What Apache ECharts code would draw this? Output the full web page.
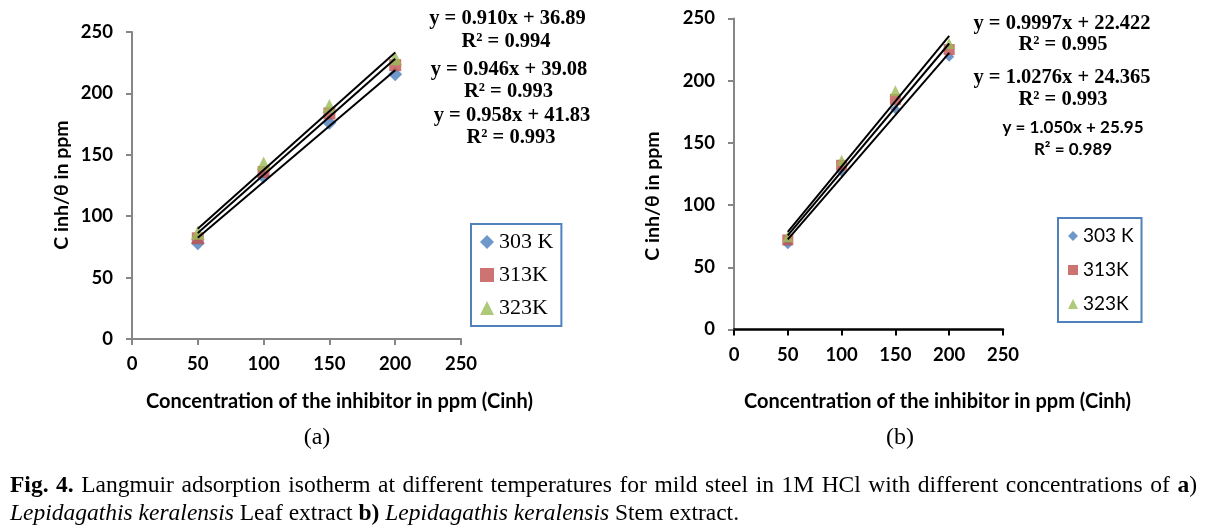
<!DOCTYPE html>
<html><head><meta charset="utf-8">
<script src="https://cdn.jsdelivr.net/npm/echarts@6/dist/echarts.min.js"></script>
<style>html,body{margin:0;padding:0;background:#fff}#c{width:1209px;height:529px}</style>
</head><body><div id="c"></div>
<script>
// ---- data ----
const concentrations = [50, 100, 150, 200];
const seriesNames = ['303 K', '313K', '323K'];
// (a) leaf extract
const leaf303 = [77.9, 132.2, 176.0, 215.5];
const leaf313 = [82.0, 136.0, 183.7, 223.0];
const leaf323 = [86.6, 143.0, 189.7, 228.6];
// (b) stem extract
const stem303 = [68.5, 126.9, 177.0, 219.3];
const stem313 = [72.0, 132.0, 185.0, 225.0];
const stem323 = [74.6, 136.0, 192.0, 230.0];
// linear-fit lines (value at x=50 and x=200, from printed equations)
const fitX = [50, 200];
const leafFit303 = [82.4, 218.9];
const leafFit313 = [86.4, 228.3];
const leafFit323 = [89.7, 233.4];
const stemFit303 = [72.4, 222.4];
const stemFit313 = [75.7, 229.9];
const stemFit323 = [78.5, 236.0];
// equation texts
const leafEq = ['y = 0.910x + 36.89', 'R² = 0.994', 'y = 0.946x + 39.08', 'R² = 0.993', 'y = 0.958x + 41.83', 'R² = 0.993'];
const stemEq = ['y = 0.9997x + 22.422', 'R² = 0.995', 'y = 1.0276x + 24.365', 'R² = 0.993', 'y = 1.050x + 25.95', 'R² = 0.989'];
const xTicks = {min: 0, max: 250, interval: 50};
const yTicks = {min: 0, max: 250, interval: 50};
const xName = 'Concentration of the inhibitor in ppm (Cinh)';
const yName = 'C inh/θ in ppm';
// caption words: [text, style]
const captionLine1 = [['Fig.', 'b'], ['4.', 'b'], ['Langmuir', ''], ['adsorption', ''], ['isotherm', ''], ['at', ''], ['different', ''],
  ['temperatures', ''], ['for', ''], ['mild', ''], ['steel', ''], ['in', ''], ['1M', ''], ['HCl', ''], ['with', ''], ['different', ''],
  ['concentrations', ''], ['of', ''], ['a)', 'ba']];
const captionLine2 = '{i|Lepidagathis keralensis} Leaf extract {b|b)} {i|Lepidagathis keralensis} Stem extract.';

// ---- styling ----
const colors = ['#4A7EBB', '#C0504D', '#9BBB59'];
const symbols = ['diamond', 'rect', 'triangle'];
const pts = ys => concentrations.map((x, i) => [x, ys[i]]);
const fit = ys => fitX.map((x, i) => [x, ys[i]]);

function axisX(gi, lineColor, lw) {
  return {gridIndex: gi, type: 'value', min: xTicks.min, max: xTicks.max, interval: xTicks.interval,
    axisLine: {show: true, onZero: false, lineStyle: {color: lineColor, width: lw}},
    axisTick: {show: true, length: 6, lineStyle: {color: lineColor, width: 2}},
    splitLine: {show: false},
    axisLabel: {fontFamily: 'Lato', fontWeight: 'bold', fontSize: 18.5, color: '#000', margin: 16}};
}
function axisY(gi) {
  return {gridIndex: gi, type: 'value', min: yTicks.min, max: yTicks.max, interval: yTicks.interval,
    axisLine: {show: true, onZero: false, lineStyle: {color: '#868686', width: 2}},
    axisTick: {show: true, length: 6, lineStyle: {color: '#868686', width: 2}},
    splitLine: {show: false},
    axisLabel: {fontFamily: 'Lato', fontWeight: 'bold', fontSize: 18.5, color: '#000', margin: 19}};
}
function scatter(gi, name, ys, k, size) {
  return {type: 'scatter', name: name, xAxisIndex: gi, yAxisIndex: gi, data: pts(ys),
    symbol: symbols[k], symbolSize: size, itemStyle: {color: colors[k]}, z: 2 + k};
}
function line(gi, ys) {
  return {type: 'line', xAxisIndex: gi, yAxisIndex: gi, data: fit(ys), symbol: 'none', silent: true,
    lineStyle: {color: '#000', width: 2}, z: 6};
}
function txt(x, y, s, font, opts) {
  return Object.assign({type: 'text', x: x, y: y, silent: true,
    style: {text: s, font: font, fill: '#000', align: 'center', verticalAlign: 'middle'}}, opts || {});
}
const serifB = 'bold 20.5px "Liberation Serif"';
const sansB = 'bold 17px Lato';
const capSize = 23.5;
const capFont = st => (st === 'b' ? 'bold ' : '') + capSize + 'px "Liberation Serif"';

// justified first caption line
const ctx = document.createElement('canvas').getContext('2d');
const capLeft = 10, capRight = 1197;
function wordWidth(w) {
  if (w[1] === 'ba') { // bold "a" + regular ")"
    ctx.font = capFont('b'); const a = ctx.measureText('a').width;
    ctx.font = capFont(''); return a + ctx.measureText(')').width;
  }
  ctx.font = capFont(w[1]); return ctx.measureText(w[0]).width;
}
const widths = captionLine1.map(wordWidth);
const totalW = widths.reduce((s, v) => s + v, 0);
const gap = (capRight - capLeft - totalW) / (captionLine1.length - 1);
const capElems = [];
let cx = capLeft;
captionLine1.forEach((w, i) => {
  const text = w[1] === 'ba' ? '{b|a})' : (w[1] === 'b' ? '{b|' + w[0] + '}' : w[0]);
  capElems.push({type: 'text', x: cx, y: 486, silent: true, style: {
    text: text, fontFamily: 'Liberation Serif', fontSize: capSize, fill: '#000', align: 'left', verticalAlign: 'middle',
    rich: {b: {fontFamily: 'Liberation Serif', fontSize: capSize, fontWeight: 'bold'}}}});
  cx += widths[i] + gap;
});
capElems.push({type: 'text', x: capLeft, y: 514, silent: true, style: {
  text: captionLine2, fontFamily: 'Liberation Serif', fontSize: capSize, fill: '#000', align: 'left', verticalAlign: 'middle',
  rich: {b: {fontFamily: 'Liberation Serif', fontSize: capSize, fontWeight: 'bold'},
         i: {fontFamily: 'Liberation Serif', fontSize: capSize, fontStyle: 'italic'}}}});

const option = {
  animation: false,
  backgroundColor: '#fff',
  grid: [{left: 132, top: 32, width: 329, height: 307}, {left: 734, top: 18.5, width: 269, height: 311}],
  xAxis: [axisX(0, '#868686', 2), axisX(1, '#000', 2.5)],
  yAxis: [axisY(0), axisY(1)],
  legend: [
    {data: seriesNames.map((n, k) => ({name: n, icon: symbols[k]})), orient: 'vertical', left: 471, top: 224,
      itemWidth: 14, itemHeight: 14, itemGap: 11, padding: [7, 8, 7, 9],
      borderColor: '#4F81BD', borderWidth: 2, selectedMode: false,
      textStyle: {fontFamily: 'Liberation Serif', fontSize: 22, lineHeight: 22, color: '#000'}},
    {data: seriesNames.map((n, k) => ({name: n, icon: symbols[k]})), orient: 'vertical', left: 1058, top: 218,
      itemWidth: 10, itemHeight: 10, itemGap: 12, padding: [7, 8, 7, 10],
      borderColor: '#4F81BD', borderWidth: 2, selectedMode: false,
      textStyle: {fontFamily: 'Lato', fontSize: 19, lineHeight: 22, color: '#000'}}
  ],
  series: [
    scatter(0, seriesNames[0], leaf303, 0, 14), scatter(0, seriesNames[1], leaf313, 1, 12), scatter(0, seriesNames[2], leaf323, 2, 14),
    line(0, leafFit303), line(0, leafFit313), line(0, leafFit323),
    scatter(1, seriesNames[0], stem303, 0, 10), scatter(1, seriesNames[1], stem313, 1, 11), scatter(1, seriesNames[2], stem323, 2, 11),
    line(1, stemFit303), line(1, stemFit313), line(1, stemFit323)
  ],
  graphic: {elements: [
    txt(507.5, 19, leafEq[0], serifB), txt(506, 42, leafEq[1], serifB),
    txt(509, 70, leafEq[2], serifB), txt(508.5, 92, leafEq[3], serifB),
    txt(512, 116, leafEq[4], serifB), txt(511, 138, leafEq[5], serifB),
    txt(1062, 24, stemEq[0], serifB), txt(1063, 45, stemEq[1], serifB),
    txt(1062, 78, stemEq[2], serifB), txt(1063, 100, stemEq[3], serifB),
    txt(1073, 128, stemEq[4], sansB), txt(1073, 150, stemEq[5], sansB),
    txt(339.5, 402, xName, 'bold 20px Lato'), txt(937.5, 402, xName, 'bold 20px Lato'),
    txt(62, 185, yName, 'bold 19.5px Lato', {rotation: Math.PI / 2}),
    txt(653, 196, yName, 'bold 19.5px Lato', {rotation: Math.PI / 2}),
    txt(317, 438, '(a)', '24px "Liberation Serif"'), txt(900, 438, '(b)', '24px "Liberation Serif"')
  ].concat(capElems)}
};
const chart = echarts.init(document.getElementById('c'), null, {renderer: 'canvas'});
chart.setOption(option);
</script></body></html>
